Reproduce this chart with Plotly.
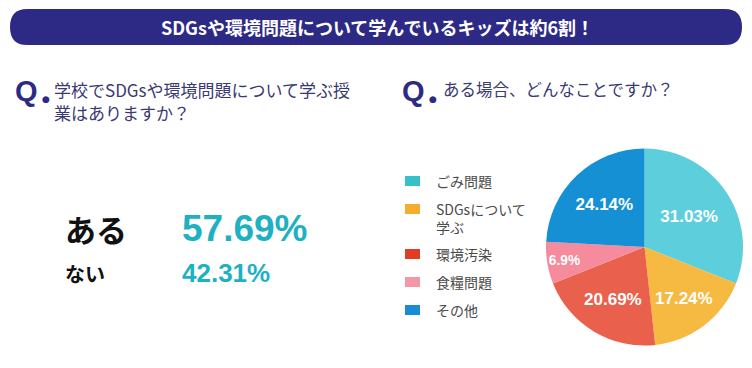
import plotly.graph_objects as go

# ---- data ----
banner_title = "SDGsや環境問題について学んでいるキッズは約6割！"
q1_lines = ["学校でSDGsや環境問題について学ぶ授", "業はありますか？"]
q2_text = "ある場合、どんなことですか？"

answers = ["ある", "ない"]
answer_pct = [57.69, 42.31]

topics = ["ごみ問題", "SDGsについて<br>学ぶ", "環境汚染", "食糧問題", "その他"]
topic_pct = [31.03, 17.24, 20.69, 6.9, 24.14]
topic_colors = ["#5dcedc", "#f6ba42", "#e9614c", "#f58b9c", "#1590d5"]
legend_colors = ["#37bfca", "#f2ae2c", "#e03d24", "#f497a6", "#1a8bd5"]

W, H = 752, 368
JP = "Noto Sans CJK JP"
NUM = "Liberation Sans"
NAVY = "#2d2a86"


def px(x):
    return x / W


def py(y):
    return 1 - y / H


fig = go.Figure()

fig.add_trace(go.Pie(
    labels=[t.replace("<br>", "") for t in topics],
    values=topic_pct,
    text=[f"{v:g}%" for v in topic_pct],
    textinfo="text",
    textposition="inside",
    insidetextorientation="horizontal",
    textfont=dict(family=NUM, size=17, color="white", weight="bold"),
    marker=dict(colors=topic_colors, line=dict(width=0)),
    sort=False,
    direction="clockwise",
    rotation=0,
    showlegend=False,
    domain=dict(x=[px(546), px(743)], y=[py(346), py(148)]),
    hoverinfo="label+percent",
))

# banner (pill shape)
x0, x1, y0, y1, r = 10, 742, 9, 45, 17
path = (f"M {px(x0 + r)} {py(y0)} L {px(x1 - r)} {py(y0)} "
        f"Q {px(x1)} {py(y0)} {px(x1)} {py((y0 + y1) / 2)} "
        f"Q {px(x1)} {py(y1)} {px(x1 - r)} {py(y1)} "
        f"L {px(x0 + r)} {py(y1)} "
        f"Q {px(x0)} {py(y1)} {px(x0)} {py((y0 + y1) / 2)} "
        f"Q {px(x0)} {py(y0)} {px(x0 + r)} {py(y0)} Z")
fig.add_shape(type="path", path=path, xref="paper", yref="paper",
              fillcolor=NAVY, line=dict(width=0))

annos = []
annos.append(dict(text=banner_title, x=px(377), y=py(27), xanchor="center", yanchor="middle",
                  font=dict(family=JP, size=18, color="white", weight="bold")))

# Q icons
for qx in (13, 400):
    annos.append(dict(text="Q", x=px(qx), y=py(91), xanchor="left", yanchor="middle",
                      font=dict(family="Liberation Sans", size=29, color=NAVY, weight="bold")))
    annos.append(dict(text="●", x=px(qx + 33), y=py(99), xanchor="center", yanchor="middle",
                      font=dict(family="DejaVu Sans", size=9, color=NAVY)))

for i, line in enumerate(q1_lines):
    annos.append(dict(text=line, x=px(52), y=py(90 + 23 * i), xanchor="left", yanchor="middle",
                      align="left", font=dict(family=JP, size=17, color="#3a3a72")))
annos.append(dict(text=q2_text, x=px(441), y=py(89), xanchor="left", yanchor="middle", align="left",
                  font=dict(family=JP, size=16.5, color="#3a3a72")))

# answers
ans_y = [228, 273]
ans_size = [31, 20]
pct_size = [37, 26]
for a, p, yy, s1, s2 in zip(answers, answer_pct, ans_y, ans_size, pct_size):
    annos.append(dict(text=a, x=px(63), y=py(yy), xanchor="left", yanchor="middle",
                      font=dict(family=JP, size=s1, color="#111111", weight="bold")))
    annos.append(dict(text=f"{p:.2f}%", x=px(180), y=py(yy), xanchor="left", yanchor="middle",
                      font=dict(family=NUM, size=s2, color="#1eb1c2", weight="bold")))

# custom legend (rows spaced like the reference)
row_y = 181
for t, c in zip(topics, legend_colors):
    nlines = t.count("<br>") + 1
    fig.add_shape(type="rect", xref="paper", yref="paper",
                  x0=px(405), x1=px(420), y0=py(row_y + 5), y1=py(row_y - 5),
                  fillcolor=c, line=dict(width=0))
    annos.append(dict(text=t, x=px(434), y=py(row_y - 12), xanchor="left", yanchor="top",
                      align="left",
                      font=dict(family=JP, size=14, color="#4a4a4a")))
    row_y += 28 + 17 * (nlines - 1)

for a in annos:
    a.update(xref="paper", yref="paper", showarrow=False)

fig.update_layout(
    width=W, height=H,
    margin=dict(l=0, r=0, t=0, b=0),
    paper_bgcolor="white",
    plot_bgcolor="white",
    annotations=annos,
    showlegend=False,
)

fig.write_html("out.html", config={"displayModeBar": False},
               post_script="document.body.style.margin='0';document.body.style.overflow='hidden';")
